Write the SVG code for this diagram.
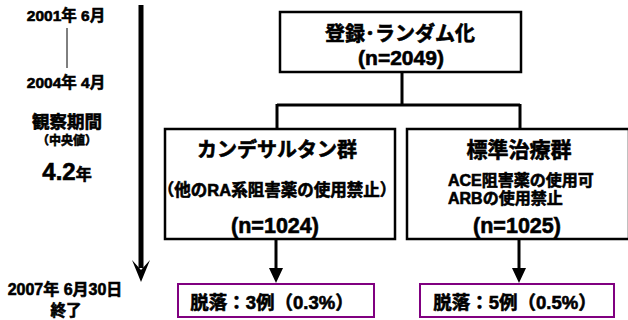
<svg xmlns="http://www.w3.org/2000/svg" width="628" height="320" viewBox="0 0 628 320">
<style>
text{font-family:"Liberation Sans","Noto Sans CJK JP",sans-serif;font-weight:bold;fill:#000;stroke:#000;stroke-width:0.6;text-anchor:middle}
.st{text-anchor:start}
.box{fill:#fff;stroke:#000;stroke-width:2.5}
.pbox{fill:#fff;stroke:#800080;stroke-width:2}
.ln{stroke:#000;stroke-width:3;fill:none}
</style>
<g id="timeline">
<text x="66" y="21" font-size="15.5">2001年 6月</text>
<line x1="67" y1="28" x2="67" y2="68" stroke="#000" stroke-width="1"/>
<text x="66" y="88" font-size="15.5">2004年 4月</text>
<text x="67" y="128" font-size="17.5">観察期間</text>
<text x="67" y="145" font-size="12">（中央値）</text>
<text x="67" y="180"><tspan font-size="24">4.2</tspan><tspan font-size="16">年</tspan></text>
<text x="65" y="295" font-size="16">2007年 6月30日</text>
<text x="66" y="316" font-size="15.5">終了</text>
<line x1="141" y1="5" x2="141" y2="268" stroke="#000" stroke-width="5"/>
<path d="M132,260 L141,282 L150,260 L141,270 Z" fill="#000"/>
</g>
<g id="connectors">
<path class="ln" d="M402,72 V105 M277,105 H520 M277,104 V129 M520,104 V129"/>
<line class="ln" x1="276" y1="239" x2="276" y2="270"/>
<path d="M269,268 L283,268 L276,283 Z" fill="#000"/>
<line class="ln" x1="519" y1="239" x2="519" y2="270"/>
<path d="M512,268 L526,268 L519,283 Z" fill="#000"/>
</g>
<g id="n-random">
<rect class="box" x="280" y="12" width="241" height="60"/>
<text x="400" y="41" font-size="20">登録･ランダム化</text>
<text x="401" y="65" font-size="21">(n=2049)</text>
</g>
<g id="n-cand">
<rect class="box" x="165" y="129" width="230" height="110"/>
<text x="277" y="157" font-size="20">カンデサルタン群</text>
<text x="277" y="196" font-size="16.5">（他のRA系阻害薬の使用禁止）</text>
<text x="275" y="233" font-size="21.5">(n=1024)</text>
</g>
<g id="n-std">
<rect class="box" x="407" y="129" width="222" height="110"/>
<text x="519" y="157" font-size="21">標準治療群</text>
<text class="st" x="448" y="186" font-size="16">ACE阻害薬の使用可</text>
<text class="st" x="448" y="204" font-size="16">ARBの使用禁止</text>
<text x="517" y="233" font-size="21.5">(n=1025)</text>
</g>
<g id="n-drop1">
<rect class="pbox" x="178" y="284" width="196" height="33"/>
<text x="272" y="309" font-size="18.5">脱落：3例（0.3%）</text>
</g>
<g id="n-drop2">
<rect class="pbox" x="420" y="284" width="194" height="33"/>
<text x="515" y="309" font-size="18.5">脱落：5例（0.5%）</text>
</g>
</svg>
